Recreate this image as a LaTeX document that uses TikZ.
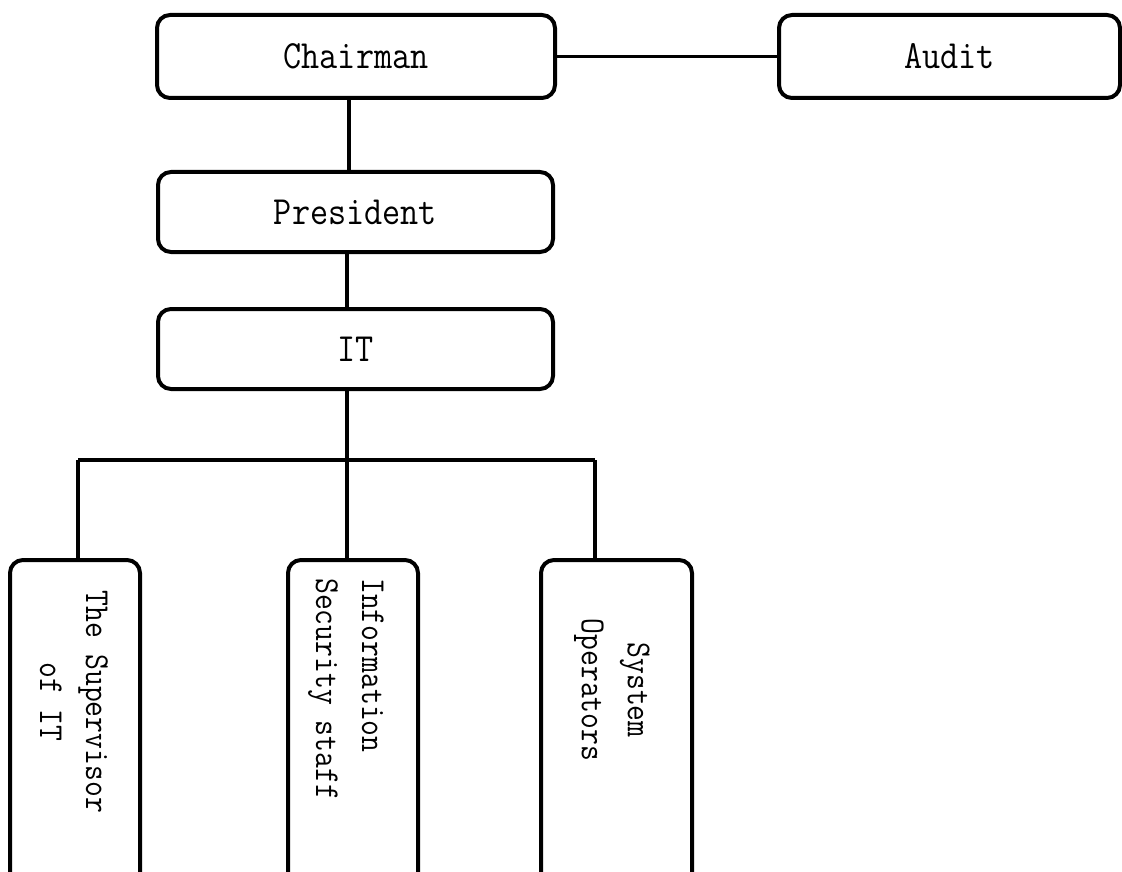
\documentclass[tikz,border=0pt]{standalone}
\usepackage{fontspec}
\newfontfamily\orgfont[FakeStretch=0.88]{Latin Modern Mono}
\usetikzlibrary{calc}
\begin{document}
\begin{tikzpicture}[x=1pt,y=-1pt,
  unit/.style={draw=black,line width=4pt,rounded corners=13pt,fill=white,
    inner sep=0pt,font=\orgfont\fontsize{40}{44}\selectfont},
  tallunit/.style={unit},
  vlabel/.style={rotate=-90,inner sep=0pt,font=\orgfont\fontsize{35}{46}\selectfont},
  link/.style={line width=3.2pt}]
\useasboundingbox (0,0) rectangle (1122,872);

% upper levels
\node[unit,minimum width=398pt,minimum height=83pt] (chair) at (356,56.5) {Chairman};
\node[unit,minimum width=341pt,minimum height=83pt] (audit) at (949.5,56.5) {Audit};
\node[unit,minimum width=395pt,minimum height=80pt] (pres) at (355.5,212) {President};
\node[unit,minimum width=395pt,minimum height=80pt] (it) at (355.5,349) {IT};

% bottom level boxes (running past the lower edge)
\node[tallunit,minimum width=130pt,minimum height=330pt] (sup) at (75,725) {};
\node[tallunit,minimum width=130pt,minimum height=330pt] (info) at (353,725) {};
\node[tallunit,minimum width=151pt,minimum height=330pt] (ops) at (616.5,725) {};

% their vertical labels
\node[vlabel,align=center] (supT) at (74,702) {The Supervisor\\of IT};
\node[vlabel,align=left,anchor=west] (infoT) at (346,578) {Information\\Security staff};
\node[vlabel,align=center] (opsT) at (612,690) {System\\Operators};

% connectors
\coordinate (cdrop) at (349,0);
\coordinate (pdrop) at (347,0);
\coordinate (busL) at (78,460);
\coordinate (busM) at (347,460);
\coordinate (busR) at (595,460);

\draw[link] (chair.east) -- (audit.west);
\draw[link] (cdrop |- chair.south) -- (cdrop |- pres.north);
\draw[link] (pdrop |- pres.south) -- (pdrop |- it.north);
\draw[link] (busM |- it.south) -- (busM |- info.north);
\draw[link] (busL) -- (busR);
\draw[link] (busL) -- (busL |- sup.north);
\draw[link] (busR) -- (busR |- ops.north);
\end{tikzpicture}
\end{document}
